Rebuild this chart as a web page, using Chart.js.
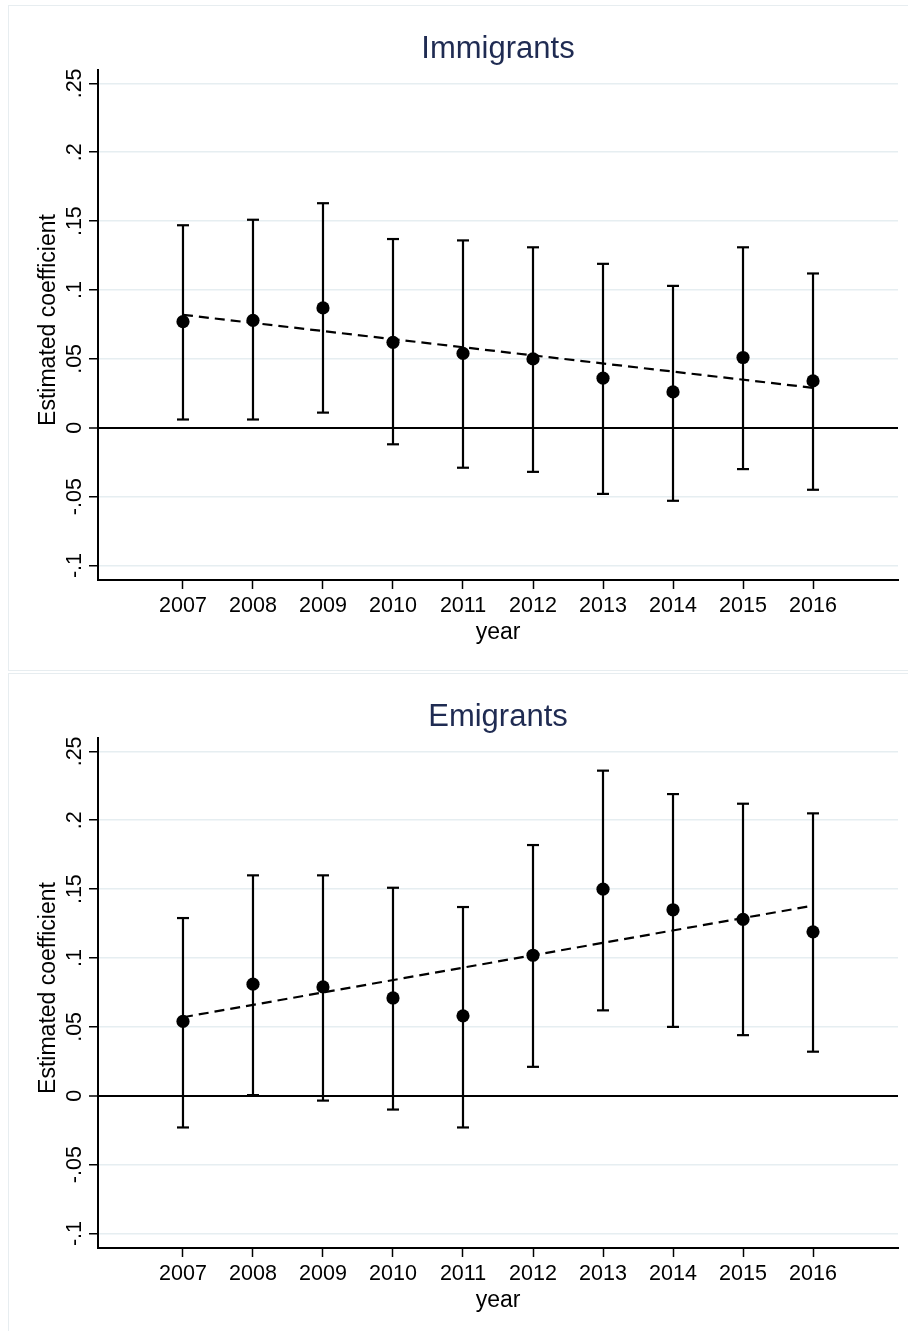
<!DOCTYPE html>
<html>
<head>
<meta charset="utf-8">
<script src="https://cdn.jsdelivr.net/npm/chart.js@4/dist/chart.umd.min.js"></script>
<style>
  html, body { margin: 0; padding: 0; background: #fff; }
  body { width: 908px; height: 1331px; position: relative; overflow: hidden; }
  .frame { position: absolute; left: 8px; width: 910px; box-sizing: border-box; border: 1px solid #e7edf0; }
  .plot { position: absolute; left: 0; width: 908px; height: 668px; }
</style>
</head>
<body>
<div class="frame" style="top:5px;height:666px;"></div>
<div class="frame" style="top:673px;height:700px;"></div>
<canvas id="imm" class="plot" width="908" height="668" style="top:0px;"></canvas>
<canvas id="emi" class="plot" width="908" height="668" style="top:668px;"></canvas>
<script>
// Survey years
const years = [2007, 2008, 2009, 2010, 2011, 2012, 2013, 2014, 2015, 2016];

// Immigrants: point estimates and 95% confidence bounds
const immEst = [0.077, 0.078, 0.087, 0.062, 0.054, 0.050, 0.036, 0.026, 0.051, 0.034];
const immLo  = [0.006, 0.006, 0.011, -0.012, -0.029, -0.032, -0.048, -0.053, -0.030, -0.045];
const immHi  = [0.147, 0.151, 0.163, 0.137, 0.136, 0.131, 0.119, 0.103, 0.131, 0.112];
const immFit = [0.082, 0.029];   // linear trend at first and last year

// Emigrants: point estimates and 95% confidence bounds
const emiEst = [0.054, 0.081, 0.079, 0.071, 0.058, 0.102, 0.150, 0.135, 0.128, 0.119];
const emiLo  = [-0.023, 0.0005, -0.0035, -0.010, -0.023, 0.021, 0.062, 0.050, 0.044, 0.032];
const emiHi  = [0.129, 0.160, 0.160, 0.151, 0.137, 0.182, 0.236, 0.219, 0.212, 0.205];
const emiFit = [0.057, 0.138];

// Axis ticks
const yTicks = [-0.1, -0.05, 0, 0.05, 0.1, 0.15, 0.2, 0.25];
const yTickLabels = ['-.1', '-.05', '0', '.05', '.1', '.15', '.2', '.25'];
const xTicks = years;

const FONT = '"Liberation Sans", Arial, Helvetica, sans-serif';
const GRID = '#e6eef1';

// Titles, rotated y tick labels and axis titles
const textPlugin = {
  id: 'panelText',
  afterDraw(chart, args, opts) {
    const { ctx, chartArea, scales } = chart;
    const cx = (chartArea.left + chartArea.right) / 2;
    ctx.save();
    // panel title
    ctx.fillStyle = '#1f2b52';
    ctx.font = '31px ' + FONT;
    ctx.textAlign = 'center';
    ctx.textBaseline = 'alphabetic';
    ctx.fillText(opts.title, cx, 58);
    // y tick labels, rotated
    ctx.fillStyle = '#000';
    ctx.font = '21.5px ' + FONT;
    yTicks.forEach((v, i) => {
      const py = scales.y.getPixelForValue(v);
      ctx.save();
      ctx.translate(chartArea.left - 17.5, py);
      ctx.rotate(-Math.PI / 2);
      ctx.fillText(yTickLabels[i], 0, 0);
      ctx.restore();
    });
    // y axis title
    ctx.font = '23px ' + FONT;
    ctx.save();
    ctx.translate(55, 320);
    ctx.rotate(-Math.PI / 2);
    ctx.fillText('Estimated coefficient', 0, 0);
    ctx.restore();
    // x axis title
    ctx.fillText('year', cx, 639);
    ctx.restore();
  }
};

function makeChart(id, title, est, lo, hi, fit) {
  const whiskers = [];
  const caps = [];
  years.forEach((yr, i) => {
    whiskers.push({ x: yr, y: lo[i] }, { x: yr, y: hi[i] }, { x: yr, y: null });
    caps.push({ x: yr, y: lo[i] }, { x: yr, y: hi[i] });
  });
  const points = years.map((yr, i) => ({ x: yr, y: est[i] }));
  const trend = [{ x: years[0], y: fit[0] }, { x: years[years.length - 1], y: fit[1] }];

  return new Chart(document.getElementById(id), {
    type: 'scatter',
    data: {
      datasets: [
        { data: points, pointStyle: 'circle', pointRadius: 6.6, pointBackgroundColor: '#000', pointBorderWidth: 0, showLine: false },
        { type: 'line', data: trend, borderColor: '#000', borderWidth: 2.2, borderDash: [10, 6], pointRadius: 0, fill: false },
        { data: caps, pointStyle: 'line', pointRadius: 6, pointBorderColor: '#000', pointBorderWidth: 2.2, showLine: false },
        { type: 'line', data: whiskers, borderColor: '#000', borderWidth: 2.2, pointRadius: 0, spanGaps: false, fill: false }
      ]
    },
    options: {
      responsive: false,
      animation: false,
      devicePixelRatio: 1,
      layout: { padding: { top: 70, right: 10, left: 0, bottom: 0 } },
      plugins: { legend: { display: false }, tooltip: { enabled: false }, panelText: { title } },
      scales: {
        x: {
          type: 'linear',
          min: 2005.786,
          max: 2017.214,
          afterBuildTicks: s => { s.ticks = xTicks.map(v => ({ value: v })); },
          afterFit: s => { s.height = 88; },
          border: { display: true, color: '#000', width: 2 },
          grid: { drawOnChartArea: false, drawTicks: true, tickLength: 9, tickColor: '#000', tickWidth: 1.5 },
          ticks: { color: '#000', padding: 4, font: { family: FONT, size: 21.5 }, callback: v => String(v), maxRotation: 0 }
        },
        y: {
          type: 'linear',
          min: -0.1105,
          max: 0.2597,
          afterBuildTicks: s => { s.ticks = yTicks.map(v => ({ value: v })); },
          afterFit: s => { s.width = 98; },
          border: { display: true, color: '#000', width: 2 },
          grid: {
            drawTicks: true,
            tickLength: 9,
            tickColor: '#000',
            tickWidth: 1.5,
            color: c => (c.tick && c.tick.value === 0 ? '#000' : GRID),
            lineWidth: c => (c.tick && c.tick.value === 0 ? 2 : 1.5)
          },
          ticks: { display: false }
        }
      }
    },
    plugins: [textPlugin]
  });
}

makeChart('imm', 'Immigrants', immEst, immLo, immHi, immFit);
makeChart('emi', 'Emigrants', emiEst, emiLo, emiHi, emiFit);
</script>
</body>
</html>
